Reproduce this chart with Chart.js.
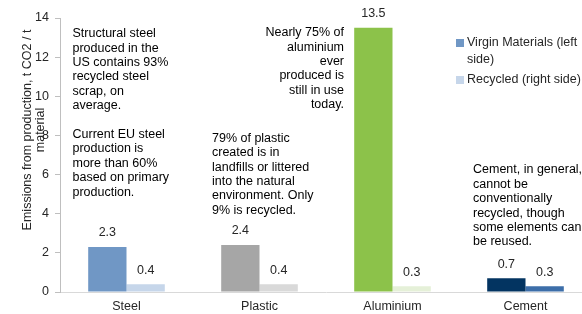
<!DOCTYPE html>
<html>
<head>
<meta charset="utf-8">
<script src="https://cdn.jsdelivr.net/npm/chart.js@4/dist/chart.umd.min.js"></script>
<style>
  html, body { margin: 0; padding: 0; background: #fff; overflow: hidden; }
  #wrap { width: 592px; height: 314px; }
</style>
</head>
<body>
<div id="wrap"><canvas id="dataChart" width="592" height="314"></canvas></div>
<script>
// categories and values
const categories = ['Steel', 'Plastic', 'Aluminium', 'Cement'];
const virginValues = [2.3, 2.4, 13.5, 0.7];
const recycledValues = [0.4, 0.4, 0.3, 0.3];
const yTicks = [0, 2, 4, 6, 8, 10, 12, 14];
const seriesNames = ['Virgin Materials (left side)', 'Recycled (right side)'];
const yTitle = ['Emissions from production, t CO2 / t', 'material'];

// notes written over the chart, one per category
const steelNote = ['Structural steel', 'produced in the', 'US contains 93%', 'recycled steel', 'scrap, on', 'average.', '', 'Current EU steel', 'production is', 'more than 60%', 'based on primary', 'production.'];
const plasticNote = ['79% of plastic', 'created is in', 'landfills or littered', 'into the natural', 'environment. Only', '9% is recycled.'];
const aluminiumNote = ['Nearly 75% of', 'aluminium', 'ever', 'produced is', 'still in use', 'today.'];
const cementNote = ['Cement, in general,', 'cannot be', 'conventionally', 'recycled, though', 'some elements can', 'be reused.'];

// styles
const virginColors = ['#7097c5', '#a6a6a6', '#8cc24a', '#033461'];
const recycledColors = ['#c6d6ea', '#d9d9d9', '#e5f0d8', '#3d6ea9'];
const FONT = '"Liberation Sans", Arial, sans-serif';
const TEXT = '#262626';

// where each note sits: px offset from its category centre, y value of first line
const noteLayout = [
  { lines: steelNote, dx: -54, y: 13.2, align: 'left' },
  { lines: plasticNote, dx: -47.5, y: 7.85, align: 'left' },
  { lines: aluminiumNote, dx: -48.5, y: 13.25, align: 'right' },
  { lines: cementNote, dx: -52.5, y: 6.24, align: 'left' }
];

const overlay = {
  id: 'overlay',
  afterDatasetsDraw(chart) {
    const ctx = chart.ctx;
    const xs = chart.scales.x, ys = chart.scales.y;
    ctx.save();
    ctx.font = '12.5px ' + FONT;
    ctx.fillStyle = TEXT;
    ctx.textBaseline = 'middle';

    // value labels above bars
    ctx.textAlign = 'center';
    chart.data.datasets.forEach((ds, di) => {
      chart.getDatasetMeta(di).data.forEach((bar, i) => {
        ctx.fillText(String(ds.data[i]), bar.x, bar.y - 14);
      });
    });

    // notes
    ctx.fillStyle = '#000';
    noteLayout.forEach((n, ci) => {
      const x = xs.getPixelForValue(ci) + n.dx;
      const y0 = ys.getPixelForValue(n.y);
      ctx.textAlign = n.align;
      n.lines.forEach((line, li) => ctx.fillText(line, x, y0 + li * 14.4));
    });

    // y axis title, two rotated lines
    ctx.fillStyle = TEXT;
    ctx.textAlign = 'center';
    [28, 41].forEach((px, li) => {
      ctx.save();
      ctx.translate(px, 130);
      ctx.rotate(-Math.PI / 2);
      ctx.fillText(yTitle[li], 0, 0);
      ctx.restore();
    });

    // legend
    ctx.textAlign = 'left';
    const legendRows = [
      { color: virginColors[0], lines: ['Virgin Materials (left', 'side)'], y: 43 },
      { color: recycledColors[0], lines: ['Recycled (right side)'], y: 80 }
    ];
    legendRows.forEach(r => {
      ctx.fillStyle = r.color;
      ctx.fillRect(456, r.y - 4, 8, 8);
      ctx.fillStyle = TEXT;
      r.lines.forEach((t, i) => ctx.fillText(t, 467, r.y + i * 17));
    });
    ctx.restore();
  }
};

new Chart(document.getElementById('dataChart'), {
  type: 'bar',
  data: {
    labels: categories,
    datasets: [
      { label: seriesNames[0], data: virginValues, backgroundColor: virginColors },
      { label: seriesNames[1], data: recycledValues, backgroundColor: recycledColors }
    ]
  },
  options: {
    responsive: false,
    animation: false,
    layout: { padding: { top: 18, right: 0, left: 0, bottom: 0 } },
    datasets: { bar: { categoryPercentage: 0.576, barPercentage: 1 } },
    plugins: { legend: { display: false }, tooltip: { enabled: false } },
    scales: {
      x: {
        grid: { drawOnChartArea: false, drawTicks: false },
        border: { color: '#d9d9d9', width: 1 },
        ticks: { color: TEXT, font: { family: FONT, size: 12.5 }, padding: 7, maxRotation: 0 },
        afterFit(scale) { scale.height = 22; }
      },
      y: {
        min: 0,
        max: 14,
        afterBuildTicks(scale) { scale.ticks = yTicks.map(v => ({ value: v })); },
        grid: { drawOnChartArea: false, drawTicks: true, tickLength: 5, color: '#bfbfbf' },
        border: { color: '#bfbfbf', width: 1 },
        ticks: { color: TEXT, font: { family: FONT, size: 12.5 }, padding: 6 },
        afterFit(scale) { scale.width = 60; }
      }
    }
  },
  plugins: [overlay]
});
</script>
</body>
</html>
